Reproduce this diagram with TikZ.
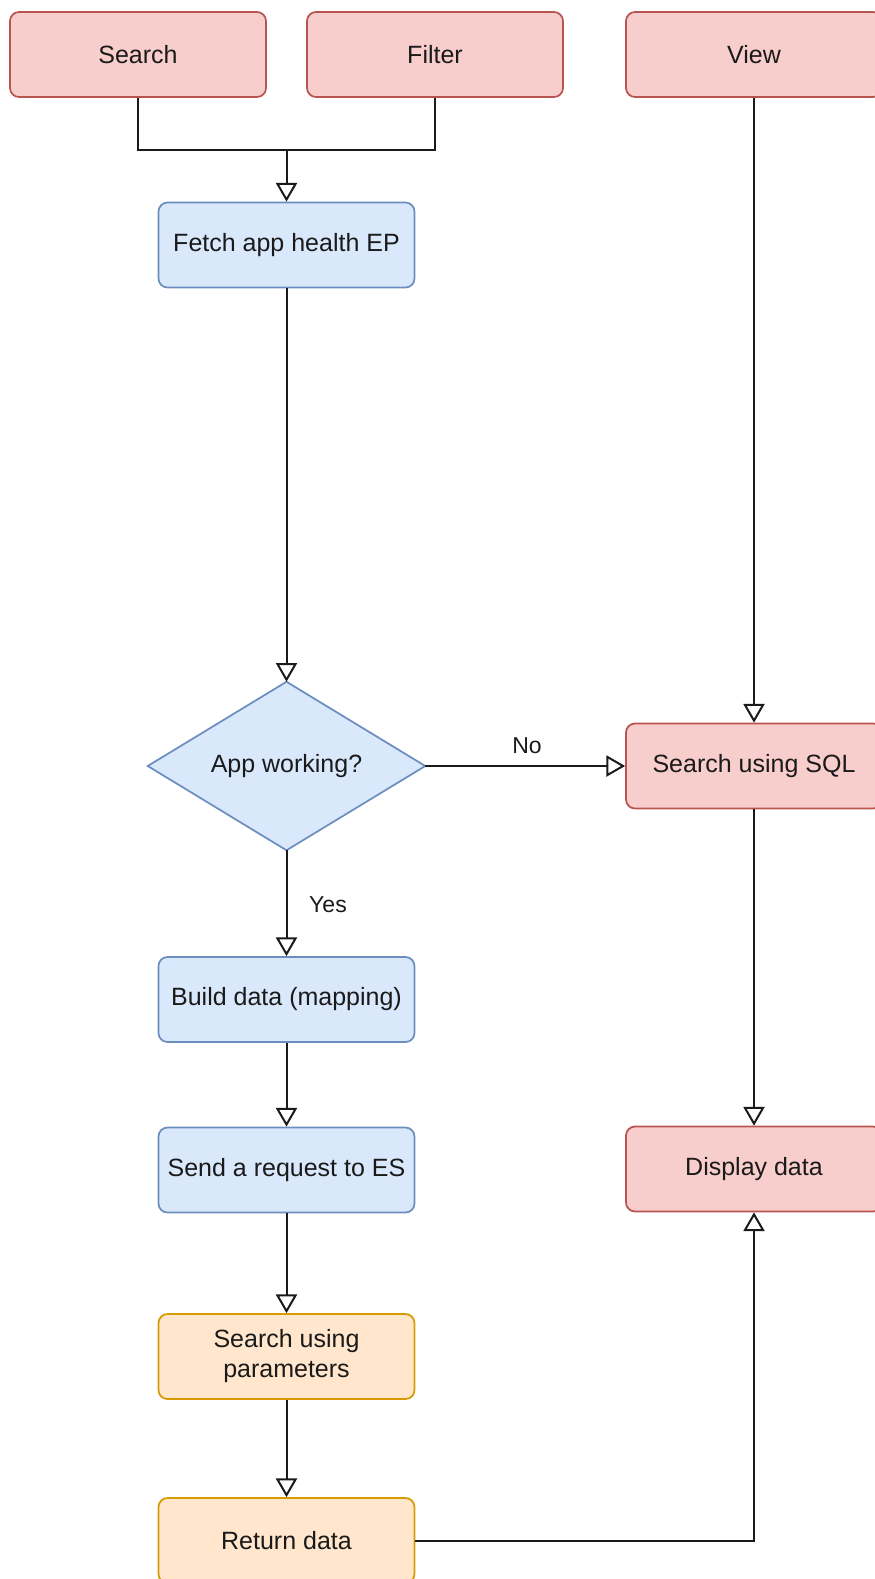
\documentclass[tikz,border=0pt]{standalone}
\usepackage{fontspec}
\setmainfont{Liberation Sans}
\usetikzlibrary{arrows.meta}
\definecolor{redfill}{HTML}{F8CECC}
\definecolor{redline}{HTML}{B85450}
\definecolor{bluefill}{HTML}{DAE8FC}
\definecolor{blueline}{HTML}{6C8EBF}
\definecolor{orangefill}{HTML}{FFE6CC}
\definecolor{orangeline}{HTML}{D79B00}
\definecolor{txt}{HTML}{1A1A1A}
\tikzset{
  box/.style={draw, rounded corners=6.75pt, line width=1.3pt, minimum width=192pt,
    minimum height=63.75pt, inner sep=0pt, align=center, text=txt,
    font=\fontsize{18.75}{22.5}\selectfont},
  redbox/.style={box, fill=redfill, draw=redline},
  bluebox/.style={box, fill=bluefill, draw=blueline},
  orangebox/.style={box, fill=orangefill, draw=orangeline},
  conn/.style={line width=1.5pt, draw=txt, -{Triangle[open, length=14pt, width=15.75pt]}},
  plain/.style={line width=1.5pt, draw=txt},
  lbl/.style={text=txt, inner sep=0pt, font=\fontsize{17.25}{20}\selectfont}
}
\begin{document}
\begin{tikzpicture}[x=0.75pt,y=-0.75pt]
\useasboundingbox (0,0) rectangle (875,1579);

\node[redbox] (search) at (138,54.5) {Search};
\node[redbox] (filter) at (435,54.5) {Filter};
\node[redbox] (view) at (754,54.5) {View};
\node[bluebox] (fetch) at (286.5,245) {Fetch app health EP};
\node[minimum width=207.75pt, minimum height=126pt, inner sep=0pt] (dia) at (286.5,766) {};
\draw[fill=bluefill, draw=blueline, line width=1.3pt]
  (dia.north) -- (dia.east) -- (dia.south) -- (dia.west) -- cycle;
\node[text=txt, font=\fontsize{18.75}{22.5}\selectfont] (dialbl) at (dia.center) {App working?};
\node[redbox] (sql) at (754,766) {Search using SQL};
\node[bluebox] (build) at (286.5,999.5) {Build data (mapping)};
\node[bluebox] (send) at (286.5,1170) {Send a request to ES};
\node[orangebox] (params) at (286.5,1356.5) {Search using\\parameters};
\node[orangebox] (ret) at (286.5,1540.5) {Return data};
\node[redbox] (disp) at (754,1169) {Display data};

\coordinate (merge) at (286.5,150);
\draw[plain] (search.south) |- (merge);
\draw[plain] (filter.south) |- (merge);
\draw[conn] (merge) -- (fetch.north);
\draw[conn] (fetch.south) -- (dia.north);
\draw[conn] (view.south) -- (sql.north);
\draw[conn] (dia.east) -- (sql.west);
\draw[conn] (dia.south) -- (build.north);
\draw[conn] (build.south) -- (send.north);
\draw[conn] (send.south) -- (params.north);
\draw[conn] (params.south) -- (ret.north);
\draw[conn] (sql.south) -- (disp.north);
\draw[conn] (ret.east) -| (disp.south);

\node[lbl] (nolbl) at (527,746) {No};
\node[lbl] (yeslbl) at (328,905) {Yes};
\end{tikzpicture}
\end{document}
